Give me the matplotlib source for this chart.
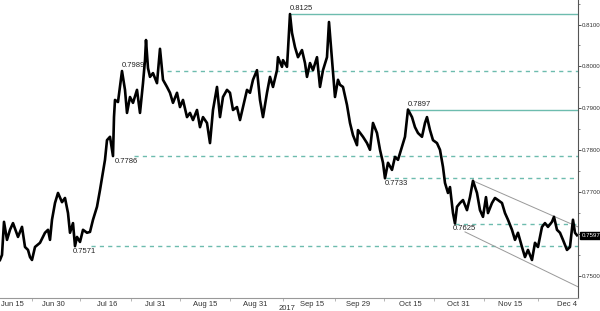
import matplotlib
matplotlib.use("Agg")
import matplotlib.pyplot as plt

plt.rcParams['font.family'] = ['Liberation Sans', 'DejaVu Sans']

# hourly bar index (trading time) and AUD/USD price
bar = [0, 10, 20, 35, 50, 65, 90, 110, 125, 140, 150, 160, 175, 200, 225, 240, 250, 260,
       275, 290, 310, 325, 340, 350, 365, 375, 385, 400, 415, 435, 450, 465, 485, 500,
       515, 525, 535, 550, 560, 565, 570, 575, 590, 610, 625, 635, 650, 665, 685, 700,
       715, 725, 730, 740, 750, 765, 785, 800, 815, 835, 850, 865, 885, 900, 915, 935,
       950, 965, 985, 1000, 1015, 1035, 1050, 1065, 1085, 1100, 1115, 1135, 1150, 1165,
       1185, 1200, 1215, 1235, 1250, 1265, 1285, 1300, 1315, 1335, 1350, 1365, 1385,
       1390, 1410, 1415, 1435, 1440, 1450, 1460, 1475, 1490, 1510, 1525, 1535, 1550,
       1565, 1585, 1600, 1615, 1635, 1645, 1660, 1675, 1690, 1700, 1715, 1735, 1750,
       1765, 1785, 1790, 1815, 1835, 1850, 1865, 1885, 1900, 1915, 1925, 1940, 1960,
       1975, 1990, 2010, 2025, 2040, 2060, 2075, 2090, 2110, 2125, 2135, 2150, 2165,
       2185, 2200, 2215, 2225, 2240, 2250, 2265, 2275, 2285, 2300, 2315, 2335, 2350,
       2365, 2385, 2400, 2415, 2430, 2440, 2460, 2475, 2490, 2510, 2525, 2540, 2560,
       2575, 2590, 2610, 2625, 2640, 2660, 2675, 2690, 2710, 2725, 2740, 2760, 2770,
       2785, 2800, 2815, 2835, 2850, 2865, 2875, 2885]
price = [0.7538, 0.7550, 0.7629, 0.7586, 0.7610, 0.7626, 0.7593, 0.7617, 0.7569,
         0.7562, 0.7545, 0.7538, 0.7569, 0.7579, 0.7603, 0.7610, 0.7586, 0.7634,
         0.7674, 0.7698, 0.7676, 0.7686, 0.7650, 0.7603, 0.7626, 0.7571, 0.7593,
         0.7581, 0.7610, 0.7603, 0.7605, 0.7634, 0.7665, 0.7705, 0.7748, 0.7777,
         0.7824, 0.7832, 0.7801, 0.7786, 0.7879, 0.7920, 0.7915, 0.7989, 0.7944,
         0.7889, 0.7927, 0.7913, 0.7944, 0.7889, 0.7960, 0.8015, 0.8063, 0.7996,
         0.7975, 0.7984, 0.7960, 0.8042, 0.7968, 0.7951, 0.7937, 0.7913, 0.7937,
         0.7903, 0.7920, 0.7879, 0.7889, 0.7872, 0.7896, 0.7855, 0.7879, 0.7865,
         0.7817, 0.7896, 0.7951, 0.7879, 0.7927, 0.7944, 0.7937, 0.7896, 0.7903,
         0.7872, 0.7903, 0.7944, 0.7937, 0.7968, 0.7991, 0.7920, 0.7879, 0.7937,
         0.7975, 0.7951, 0.7991, 0.8022, 0.7999, 0.8015, 0.7999, 0.8039, 0.8125,
         0.8080, 0.8046, 0.8022, 0.8039, 0.8008, 0.7975, 0.8008, 0.7991, 0.8022,
         0.7951, 0.7991, 0.8022, 0.8106, 0.8015, 0.7927, 0.7968, 0.7956, 0.7951,
         0.7908, 0.7865, 0.7836, 0.7812, 0.7848, 0.7832, 0.7817, 0.7801, 0.7865,
         0.7841, 0.7801, 0.7770, 0.7733, 0.7770, 0.7753, 0.7784, 0.7777, 0.7808,
         0.7832, 0.7897, 0.7879, 0.7855, 0.7841, 0.7832, 0.7865, 0.7879, 0.7848,
         0.7824, 0.7817, 0.7801, 0.7760, 0.7722, 0.7698, 0.7712, 0.7650, 0.7625,
         0.7665, 0.7674, 0.7681, 0.7657, 0.7688, 0.7727, 0.7698, 0.7657, 0.7641,
         0.7688, 0.7650, 0.7674, 0.7686, 0.7681, 0.7674, 0.7650, 0.7634, 0.7610,
         0.7586, 0.7603, 0.7569, 0.7545, 0.7562, 0.7538, 0.7579, 0.7569, 0.7617,
         0.7626, 0.7617, 0.7629, 0.7641, 0.7610, 0.7603, 0.7586, 0.7562, 0.7569,
         0.7634, 0.7603, 0.7597]

tick_pos = [60, 265, 535, 775, 1025, 1275, 1560, 1790, 2050, 2290, 2550, 2835]
tick_labels = ['Jun 15', 'Jun 30', 'Jul 16', 'Jul 31', 'Aug 15', 'Aug 31',
               'Sep 15', 'Sep 29', 'Oct 15', 'Oct 31', 'Nov 15', 'Dec 4']

# y-axis labels (0.7600 is hidden behind the last-price tag)
y_ticks = [0.75, 0.76, 0.77, 0.78, 0.79, 0.80, 0.81]
y_labels = ['0.7500', '', '0.7700', '0.7800', '0.7900', '0.8000', '0.8100']

# support / resistance levels
levels = [0.8125, 0.7989, 0.7897, 0.7786, 0.7733, 0.7625, 0.7571]
level_start = [1450, 835, 2040, 670, 1930, 2275, 455]
level_solid = [True, False, True, False, False, False, False]
label_bar = [1450, 610, 2040, 575, 1925, 2265, 365]
label_above = [True, True, True, False, False, False, False]

# downward channel
chan_upper_x = [2365, 2890]
chan_upper_y = [0.7727, 0.7617]
chan_lower_x = [2325, 2890]
chan_lower_y = [0.7605, 0.7474]

last_price = 0.7597

fig = plt.figure(figsize=(6, 3.11), dpi=100)
ax = fig.add_axes([0, 0.042, 0.9633, 0.958])

lvl_color = '#6dbcae'
for p, s, solid, lb, above in zip(levels, level_start, level_solid, label_bar, label_above):
    ax.plot([s, 2890], [p, p], color=lvl_color, lw=1.0,
            ls='-' if solid else (0, (3, 3)), zorder=1)
    ax.text(lb, p + (0.0004 if above else -0.0004), f'{p:.4f}', fontsize=5.5,
            va='bottom' if above else 'top', ha='left', color='#222222')

ax.plot(chan_upper_x, chan_upper_y, color='#999999', lw=0.7, zorder=1)
ax.plot(chan_lower_x, chan_lower_y, color='#999999', lw=0.7, zorder=1)

ax.plot(bar, price, color='black', lw=1.9, zorder=3)

ax.set_xlim(0, 2890)
ax.set_ylim(0.74474, 0.81585)

for side in ['left', 'top']:
    ax.spines[side].set_visible(False)
ax.spines['right'].set_color('#555555')
ax.spines['bottom'].set_color('#999999')
ax.spines['right'].set_linewidth(0.8)

ax.yaxis.tick_right()
ax.set_yticks(y_ticks)
ax.set_yticklabels(y_labels)
ax.set_yticks([0.755, 0.765, 0.775, 0.785, 0.795, 0.805, 0.815], minor=True)
ax.tick_params(axis='y', which='major', labelsize=4.4, length=1.8, width=0.6, pad=0.6,
               colors='#333333')
ax.tick_params(axis='y', which='minor', length=1.2, width=0.5, colors='#555555')

ax.set_xticks(tick_pos)
ax.set_xticklabels(tick_labels)
mids = [(a + b) / 2 for a, b in zip(tick_pos[:-1], tick_pos[1:])]
ax.set_xticks(mids, minor=True)
ax.tick_params(axis='x', which='major', labelsize=5.5, length=0, pad=2, colors='#333333')
ax.tick_params(axis='x', which='minor', length=2, width=0.5, colors='#999999')
ax.text(1435, -0.024, '2017', transform=ax.get_xaxis_transform(), fontsize=5.5,
        ha='center', va='top', color='#333333', clip_on=False)

ax.text(1.006, last_price, f'{last_price:.4f}', transform=ax.get_yaxis_transform(),
        fontsize=4.4, color='white', va='center', ha='left',
        bbox=dict(boxstyle='square,pad=0.2', fc='black', ec='black'), clip_on=False)

fig.savefig('out.png', dpi=100)
